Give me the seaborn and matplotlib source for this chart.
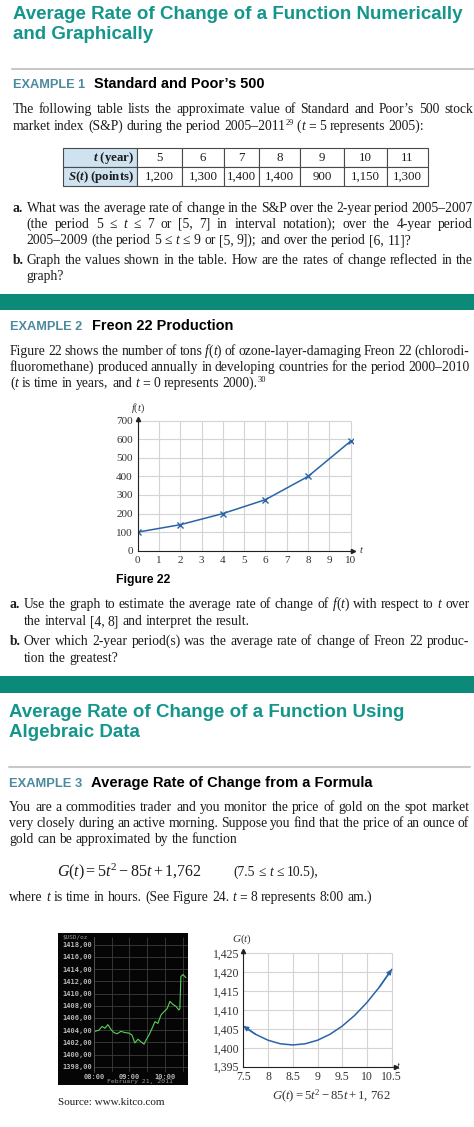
import re
import matplotlib
matplotlib.use("Agg")
import matplotlib.pyplot as plt
import seaborn as sns
from matplotlib.lines import Line2D
from matplotlib.patches import Rectangle
from matplotlib.table import Table

# ---------------- data ----------------
sp_year = [5, 6, 7, 8, 9, 10, 11]
sp_points = [1200, 1300, 1400, 1400, 900, 1150, 1300]

freon_t = [0, 2, 4, 6, 8, 10]
freon_tons = [100, 140, 200, 275, 400, 590]
freon_xticks = [0, 1, 2, 3, 4, 5, 6, 7, 8, 9, 10]
freon_yticks = [0, 100, 200, 300, 400, 500, 600, 700]

gold_t = [7.5, 7.75, 8.0, 8.25, 8.5, 8.75, 9.0, 9.25, 9.5, 9.75, 10.0, 10.25, 10.5]
gold_price = [1405.75, 1403.56, 1402.0, 1401.06, 1400.75, 1401.06, 1402.0,
              1403.56, 1405.75, 1408.56, 1412.0, 1416.06, 1420.75]
gold_xticks = [7.5, 8, 8.5, 9, 9.5, 10, 10.5]
gold_xticklabels = ["7.5", "8", "8.5", "9", "9.5", "10", "10.5"]
gold_yticks = [1395, 1400, 1405, 1410, 1415, 1420, 1425]

kitco_hour = [8.03, 8.14, 8.23, 8.31, 8.39, 8.48, 8.56, 8.65, 8.76, 8.87, 8.99,
              9.07, 9.15, 9.24, 9.32, 9.41, 9.46, 9.55, 9.63, 9.72, 9.80, 9.89,
              9.97, 10.06, 10.14, 10.23, 10.31, 10.39, 10.42, 10.45, 10.51, 10.59]
kitco_usd = [1403.8, 1404.0, 1404.6, 1404.3, 1404.9, 1404.1, 1403.6, 1403.4, 1403.8,
             1403.6, 1403.5, 1403.2, 1401.9, 1402.5, 1402.1, 1401.7, 1402.3, 1403.2,
             1404.2, 1405.4, 1405.1, 1406.5, 1407.0, 1407.5, 1408.7, 1408.2, 1407.9,
             1407.3, 1407.5, 1412.8, 1413.1, 1412.6]
kitco_yticks = [1398, 1400, 1402, 1404, 1406, 1408, 1410, 1412, 1414, 1416, 1418]
kitco_xticks = [8, 9, 10]
kitco_xticklabels = ["08:00", "09:00", "10:00"]

# ---------------- style ----------------
sns.set_theme(style="white")
SERIF = ["Liberation Serif", "DejaVu Serif"]
SANS = ["Liberation Sans", "DejaVu Sans"]
plt.rcParams["font.family"] = SERIF
plt.rcParams.update({
    "mathtext.fontset": "custom",
    "mathtext.rm": "Liberation Serif",
    "mathtext.it": "Liberation Serif:italic",
    "mathtext.bf": "Liberation Serif:bold",
    "mathtext.bfit": "Liberation Serif:italic:bold",
})
INK = "#1d1b1c"
TEAL = "#14968c"
BAND = "#0c8a79"
EXC = "#4a8a9e"
BLUE = "#2a64a8"
GRID = "#d4d4d4"

W, H = 474, 1127
fig = plt.figure(figsize=(W / 100, H / 100), dpi=100)
fig.patch.set_facecolor("white")
R = fig.canvas.get_renderer()


def txt(x, y, s, size, ha="left", va="baseline", **kw):
    kw.setdefault("family", SERIF)
    kw.setdefault("color", INK)
    return fig.text(x / W, 1 - y / H, s, fontsize=size, ha=ha, va=va, **kw)


def width(t):
    return t.get_window_extent(renderer=R).width


def fit(x0, x1, y, s, size=12, **kw):
    t = txt(x0, y, s, size, **kw)
    t.set_fontsize(size * (x1 - x0) / width(t))
    return t


BODY = 9.8
SEG = re.compile(r"\{([isb]):([^}]*)\}")


def segs(word):
    out, pos = [], 0
    for m in SEG.finditer(word):
        if m.start() > pos:
            out.append(("n", word[pos:m.start()]))
        out.append((m.group(1), m.group(2)))
        pos = m.end()
    if pos < len(word):
        out.append(("n", word[pos:]))
    return out


def word_artists(y, word, size, **kw):
    arts = []
    for st, s in segs(word):
        if st == "i":
            t = txt(0, y, s, size, style="italic", **kw)
        elif st == "s":
            t = txt(0, y - size * 100 / 72 * 0.36, s, size * 0.62, **kw)
        elif st == "b":
            t = txt(0, y, s, size, weight="bold", **kw)
        else:
            t = txt(0, y, s, size, **kw)
        arts.append((t, width(t)))
    return arts


def line(x0, y, s, x1=None, size=BODY, **kw):
    groups = [word_artists(y, w, size, **kw) for w in s.split(" ")]
    ws = [sum(w for _, w in g) for g in groups]
    if x1 is not None and len(groups) > 1:
        gap = (x1 - x0 - sum(ws)) / (len(groups) - 1)
    else:
        gap = size * 100 / 72 * 0.25
    x = x0
    for g, w in zip(groups, ws):
        xx = x
        for t, tw in g:
            t.set_x(xx / W)
            xx += tw
        x += w + gap


def band(y0, y1):
    fig.add_artist(Rectangle((0, 1 - y1 / H), 1, (y1 - y0) / H,
                             transform=fig.transFigure, color=BAND, lw=0))


def rule(x0, x1, y):
    fig.add_artist(Line2D([x0 / W, x1 / W], [1 - y / H] * 2, color="#c8c8c8", lw=1.5))


def axes_px(l, t, r, b):
    return fig.add_axes([l / W, 1 - b / H, (r - l) / W, (b - t) / H])


# ---------------- section 1 ----------------
t1 = fit(12.7, 461.7, 19.3, "Average Rate of Change of a Function Numerically",
         family=SANS, weight="bold", color=TEAL)
txt(12.7, 39.3, "and Graphically", t1.get_fontsize(), family=SANS, weight="bold", color=TEAL)
rule(12, 474, 68.5)
fit(12.7, 85, 88.3, "EXAMPLE 1", family=SANS, weight="bold", color=EXC)
fit(94.3, 264.3, 88.3, "Standard and Poor\u2019s 500", family=SANS, weight="bold", color="black")

line(12.7, 113.3, "The following table lists the approximate value of Standard and Poor\u2019s 500 stock", 472.7)
line(12.7, 130, "market index (S&P) during the period 2005\u20132011{s:29} ({i:t} = 5 represents 2005):")

# table
tax = axes_px(63, 148, 428, 186)
tax.axis("off")
tab = Table(tax, bbox=[0, 0, 1, 1])
colpx = [74, 45, 42, 35, 41, 44, 43, 41]
tot = sum(colpx)
rows = [["$\\mathbfit{t}$ (year)"] + [str(v) for v in sp_year],
        ["$\\mathbfit{S}$($\\mathbfit{t}$) (points)"] + [f"{v:,}" for v in sp_points]]
for r, row in enumerate(rows):
    for c, s in enumerate(row):
        cell = tab.add_cell(r, c, colpx[c] / tot, 0.5, text=s,
                            loc="right" if c == 0 else "center",
                            facecolor="#cfe2f0" if c == 0 else "white",
                            edgecolor="#4a4a4a")
        cell.set_linewidth(0.8)
        cell.PAD = 0.04
        tt = cell.get_text()
        tt.set_fontsize(9.3)
        tt.set_family(SERIF)
        tt.set_color(INK)
        if c == 0:
            tt.set_weight("bold")
tab.auto_set_font_size(False)
tax.add_table(tab)

txt(12.7, 211.7, "a.", BODY, weight="bold")
line(26.7, 211.7, "What was the average rate of change in the S&P over the 2-year period 2005\u20132007", 472.7)
line(26.7, 227.7, "(the period 5 \u2264 {i:t} \u2264 7 or [5, 7] in interval notation); over the 4-year period", 472.7)
line(26.7, 244.3, "2005\u20132009 (the period 5 \u2264 {i:t} \u2264 9 or [5, 9]); and over the period [6, 11]?")
txt(12.7, 264, "b.", BODY, weight="bold")
line(26.7, 264, "Graph the values shown in the table. How are the rates of change reflected in the", 472.7)
line(26.7, 280, "graph?")

band(294, 310)

# ---------------- section 2 ----------------
fit(10, 82.7, 330, "EXAMPLE 2", family=SANS, weight="bold", color=EXC)
fit(91.7, 232.3, 330, "Freon 22 Production", family=SANS, weight="bold", color="black")
line(10, 355, "Figure 22 shows the number of tons {i:f}({i:t}) of ozone-layer-damaging Freon 22 (chlorodi-", 469.3)
line(10, 371, "fluoromethane) produced annually in developing countries for the period 2000\u20132010", 469.3)
line(10, 387.3, "({i:t} is time in years, and {i:t} = 0 represents 2000).{s:30}")

ax = axes_px(137.7, 418.5, 352.8, 550.7)
ax.set_facecolor("none")
ax.set_xlim(0, 10.1)
ax.set_ylim(0, 712)
ax.vlines(freon_xticks, freon_yticks[0], freon_yticks[-1], color=GRID, lw=0.8, zorder=0)
ax.hlines(freon_yticks, freon_xticks[0], freon_xticks[-1], color=GRID, lw=0.8, zorder=0)
sns.lineplot(x=freon_t, y=freon_tons, ax=ax, color=BLUE, lw=1.1, marker="x",
             markersize=4.5, markeredgewidth=1.0, markeredgecolor=BLUE)
for s in ["top", "right"]:
    ax.spines[s].set_visible(False)
for s in ["left", "bottom"]:
    ax.spines[s].set_color("#222222")
    ax.spines[s].set_linewidth(0.8)
ax.plot(1, 0, ">", color="#222222", ms=3, transform=ax.transAxes, clip_on=False)
ax.plot(0, 1, "^", color="#222222", ms=3, transform=ax.transAxes, clip_on=False)
ax.set_xticks(freon_xticks)
ax.set_yticks(freon_yticks)
ax.tick_params(length=0, labelsize=8, pad=3.5, colors="#333333")
for lab in ax.get_xticklabels() + ax.get_yticklabels():
    lab.set_family(SERIF)
ax.set_xlabel("")
ax.set_ylabel("")
txt(138, 410.5, "$f$($t$)", 7.5, ha="center", color="#333333")
txt(361.7, 553, "$t$", 7.5, ha="center", color="#333333")

fit(116, 170, 583.3, "Figure 22", family=SANS, weight="bold", color="black")
txt(10, 608.3, "a.", BODY, weight="bold")
line(24, 608.3, "Use the graph to estimate the average rate of change of {i:f}({i:t}) with respect to {i:t} over", 469.3)
line(24, 625, "the interval [4, 8] and interpret the result.")
txt(10, 645, "b.", BODY, weight="bold")
line(24, 645, "Over which 2-year period(s) was the average rate of change of Freon 22 produc-", 469.3)
line(24, 661.7, "tion the greatest?")

band(676, 693)

# ---------------- section 3 ----------------
t3 = fit(9.3, 403.3, 716.7, "Average Rate of Change of a Function Using",
         family=SANS, weight="bold", color=TEAL)
txt(9.3, 736.7, "Algebraic Data", t3.get_fontsize(), family=SANS, weight="bold", color=TEAL)
rule(9.3, 470, 766.7)
fit(9.3, 82.7, 786.7, "EXAMPLE 3", family=SANS, weight="bold", color=EXC)
fit(90.7, 370, 786.7, "Average Rate of Change from a Formula", family=SANS, weight="bold", color="black")
line(9.3, 810.7, "You are a commodities trader and you monitor the price of gold on the spot market", 469.3)
line(9.3, 827.3, "very closely during an active morning. Suppose you find that the price of an ounce of", 469.3)
line(9.3, 842.7, "gold can be approximated by the function")
fit(56.7, 202.3, 876, "$G(t) = 5t^2 - 85t + 1{,}762$", size=BODY)
line(233.3, 876, "(7.5 \u2264 {i:t} \u2264 10.5),")
line(9.3, 901, "where {i:t} is time in hours. (See Figure 24. {i:t} = 8 represents 8:00 am.)")

# kitco chart
box = axes_px(58.3, 933.3, 188.3, 1085)
box.set_facecolor("#050505")
box.set_xticks([])
box.set_yticks([])
for s in box.spines.values():
    s.set_visible(False)
kax = axes_px(94, 937.4, 188, 1071.6)
kax.set_facecolor("#050505")
kax.set_xlim(8.0, 10.65)
kax.set_ylim(1397.2, 1419.2)
kax.hlines(kitco_yticks, 8.0, 10.65, color="#3c3c3c", lw=0.6, zorder=0)
kax.vlines([8.0, 8.5, 9.0, 9.5, 10.0, 10.5], 1397.2, 1419.2, color="#3c3c3c", lw=0.6, zorder=0)
sns.lineplot(x=kitco_hour, y=kitco_usd, ax=kax, color="#56d356", lw=0.8)
for s in kax.spines.values():
    s.set_visible(False)
kax.spines["left"].set_visible(True)
kax.spines["left"].set_color("#555555")
kax.spines["left"].set_linewidth(0.6)
kax.set_yticks(kitco_yticks)
kax.set_yticklabels([f"{v},00" for v in kitco_yticks])
kax.set_xticks(kitco_xticks)
kax.set_xticklabels(kitco_xticklabels)
kax.tick_params(length=0, labelsize=5.0, pad=1.5, colors="#b8b8b8")
for lab in kax.get_xticklabels() + kax.get_yticklabels():
    lab.set_family(["DejaVu Sans Mono"])
    lab.set_weight("bold")
kax.set_xlabel("")
kax.set_ylabel("")
txt(62, 938.5, r"\$USD/oz", 4.3, family=["DejaVu Sans Mono"], color="#9a9a9a")
txt(140, 1083.5, "February 21, 2011", 4.6, ha="center", family=["DejaVu Sans Mono"], color="#9a9a9a")
txt(58.3, 1105, "Source: www.kitco.com", 8.0)

# G(t) chart
gax = axes_px(243.3, 951.4, 395.7, 1066.7)
gax.set_facecolor("none")
gax.set_xlim(7.5, 10.58)
gax.set_ylim(1395, 1425.5)
gax.vlines(gold_xticks, gold_yticks[0], gold_yticks[-1], color=GRID, lw=0.8, zorder=0)
gax.hlines(gold_yticks, gold_xticks[0], gold_xticks[-1], color=GRID, lw=0.8, zorder=0)
sns.lineplot(x=gold_t, y=gold_price, ax=gax, color=BLUE, lw=1.1)
ap = dict(arrowstyle="-|>", color=BLUE, lw=1.0, mutation_scale=7, shrinkA=0, shrinkB=0)
gax.annotate("", xy=(gold_t[0], gold_price[0]), xytext=(gold_t[1], gold_price[1]), arrowprops=ap)
gax.annotate("", xy=(gold_t[-1], gold_price[-1]), xytext=(gold_t[-2], gold_price[-2]), arrowprops=ap)
for s in ["top", "right"]:
    gax.spines[s].set_visible(False)
for s in ["left", "bottom"]:
    gax.spines[s].set_color("#222222")
    gax.spines[s].set_linewidth(0.8)
gax.plot(1, 0, ">", color="#222222", ms=3, transform=gax.transAxes, clip_on=False)
gax.plot(0, 1, "^", color="#222222", ms=3, transform=gax.transAxes, clip_on=False)
gax.set_xticks(gold_xticks)
gax.set_xticklabels(gold_xticklabels)
gax.set_yticks(gold_yticks)
gax.set_yticklabels([f"{v:,}" for v in gold_yticks])
gax.tick_params(length=0, labelsize=8.5, pad=3, colors="#333333")
for lab in gax.get_xticklabels() + gax.get_yticklabels():
    lab.set_family(SERIF)
gax.set_xlabel("")
gax.set_ylabel("")
txt(242, 942, "$G$($t$)", 8, ha="center", color="#333333")
txt(398.3, 1069, "$t$", 7.5, ha="center", color="#333333")
fit(271.7, 390, 1100, "$G(t) = 5t^2 - 85t + 1,\\,762$", size=8.5, color="#333333")

fig.savefig("out.png", dpi=100)
